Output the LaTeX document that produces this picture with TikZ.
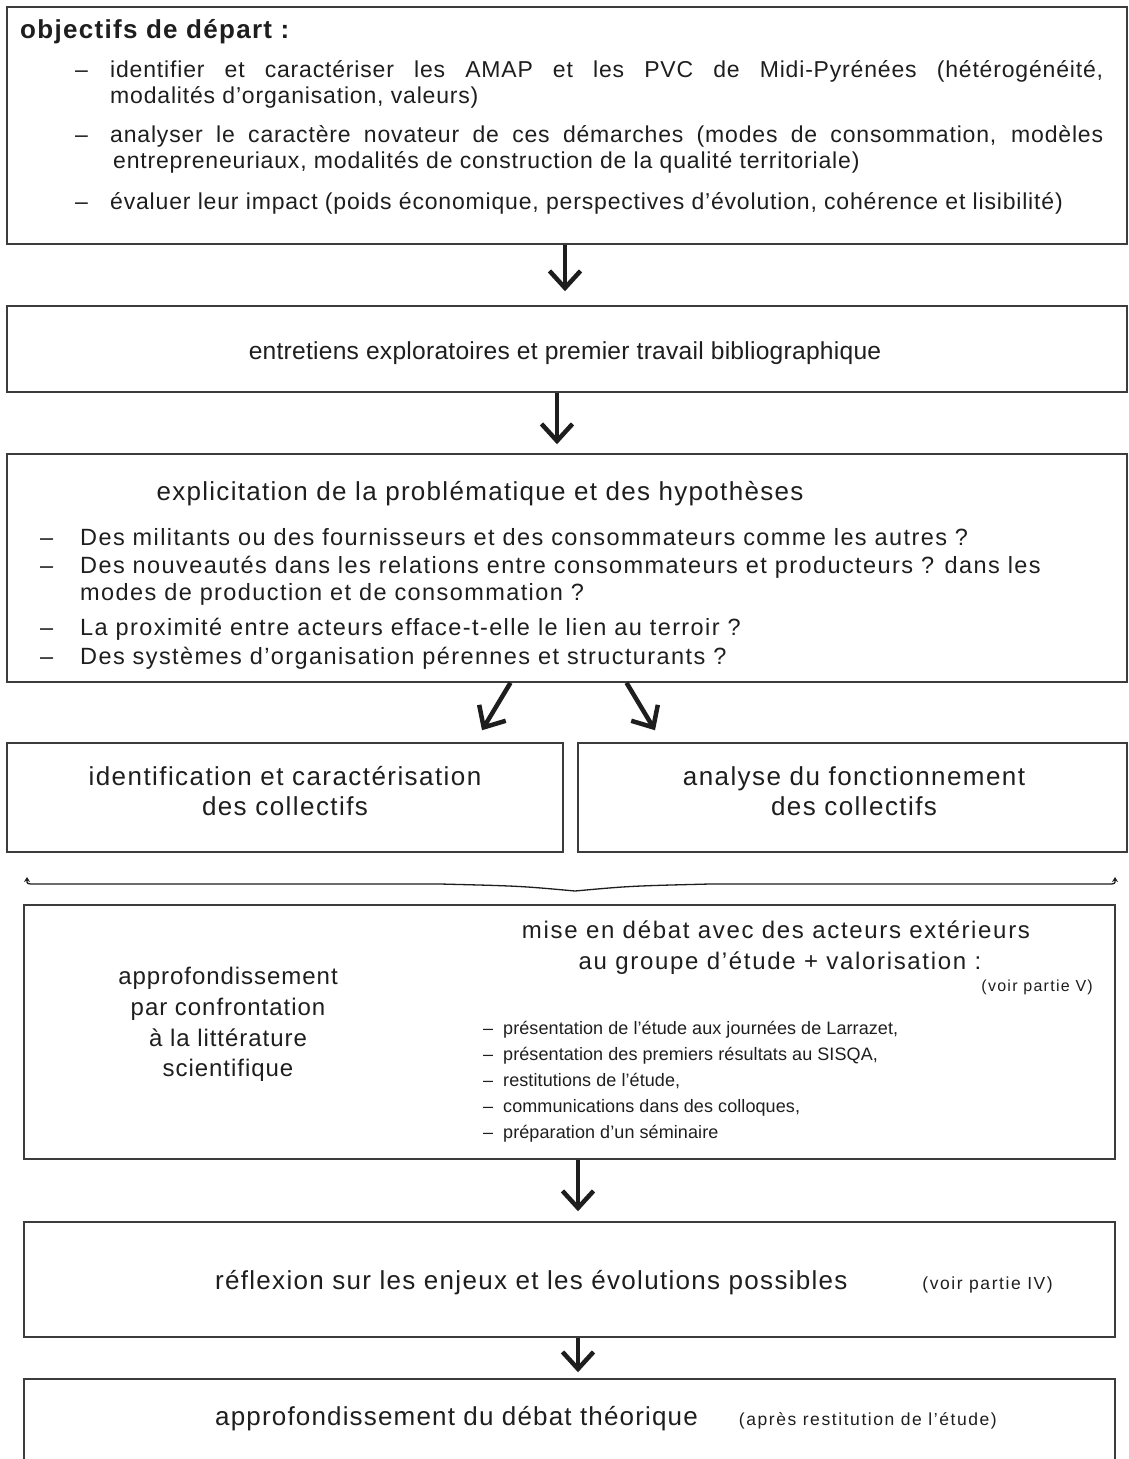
\documentclass[tikz,border=0pt]{standalone}
\usepackage{fontspec}
\setmainfont{Liberation Sans}
\usetikzlibrary{arrows.meta,calc}
\definecolor{ink}{HTML}{1E1E1E}
\definecolor{frame}{HTML}{3C3C3C}
\newcommand{\fsz}[3]{\fontsize{#1}{#2}\selectfont\addfontfeature{LetterSpace=#3}}
\begin{document}
\begin{tikzpicture}[x=1pt,y=-1pt,
  box/.style={draw=frame,line width=1.5pt,rectangle,inner sep=0pt},
  arr/.style={draw=ink,line width=4.5pt,-{Straight Barb[length=17pt,width=31pt,line width=4.5pt]}},
  txt/.style={inner sep=0pt,text=ink,anchor=base west},
  ctxt/.style={inner sep=0pt,text=ink,anchor=base},
  rtxt/.style={inner sep=0pt,text=ink,anchor=base east},
  fa/.style={font=\fsz{23}{26}{3.6}},
  fb/.style={font=\fsz{23.5}{28}{6}},
  fc/.style={font=\fsz{26}{30}{5}},
  fd/.style={font=\fsz{26}{30}{5.5}},
  fh/.style={font=\fsz{26}{30}{4.5}},
  fe/.style={font=\fsz{24}{30}{4}},
  ff/.style={font=\fsz{24}{30}{7}},
  fg/.style={font=\fsz{18}{22}{0.5}},
  fs/.style={font=\fsz{16}{18}{8}},
  fsb/.style={font=\fsz{17.5}{20}{9}},
  brace/.style={draw=ink,line width=1.3pt}]
\useasboundingbox (0,0) rectangle (1128,1459);
\clip (0,0) rectangle (1128,1459);
\fill[white] (0,0) rectangle (1128,1459);

% boxes
\node[box,minimum width=1120pt,minimum height=237pt] (b1) at (567,125.5) {};
\node[box,minimum width=1120pt,minimum height=86pt] (b2) at (567,349) {};
\node[box,minimum width=1120pt,minimum height=228pt] (b3) at (567,568) {};
\node[box,minimum width=556pt,minimum height=109pt] (b4a) at (285,797.5) {};
\node[box,minimum width=549pt,minimum height=109pt] (b4b) at (852.5,797.5) {};
\node[box,minimum width=1091pt,minimum height=254pt] (b5) at (569.5,1032) {};
\node[box,minimum width=1091pt,minimum height=115pt] (b6) at (569.5,1279.5) {};
\node[box,minimum width=1091pt,minimum height=121pt] (b7) at (569.5,1439.5) {};

% box 1
\node[txt,font=\fsz{26}{30}{5}\bfseries] (t1) at (20,38) {objectifs de départ :};
\node[txt,fa] (d11) at (75,77) {--};
\node[txt,fa] (l11) at (110,77) {\makebox[993pt][s]{identifier et caractériser les AMAP et les PVC de Midi-Pyrénées (hétérogénéité,}};
\node[txt,fa] (l12) at (110,103) {modalités d’organisation, valeurs)};
\node[txt,fa] (d12) at (75,142) {--};
\node[txt,fa] (l13) at (110,142) {\makebox[993pt][s]{analyser le caractère novateur de ces démarches (modes de consommation, modèles}};
\node[txt,fa] (l14) at (113,168) {entrepreneuriaux, modalités de construction de la qualité territoriale)};
\node[txt,fa] (d13) at (75,209) {--};
\node[txt,fa] (l15) at (110,209) {évaluer leur impact (poids économique, perspectives d’évolution, cohérence et lisibilité)};

% box 2
\node[ctxt,font=\fsz{24.6}{30}{1}] (t2) at (565,359) {entretiens exploratoires et premier travail bibliographique};

% box 3
\node[ctxt,fc] (t3) at (480,500) {explicitation de la problématique et des hypothèses};
\node[txt,fb] (d31) at (40,545) {--};
\node[txt,fb] (l31) at (80,545) {Des militants ou des fournisseurs et des consommateurs comme les autres ?};
\node[txt,fb] (d32) at (40,573) {--};
\node[txt,fb] (l32) at (80,573) {Des nouveautés dans les relations entre consommateurs et producteurs ? dans les};
\node[txt,fb] (l33) at (80,600) {modes de production et de consommation ?};
\node[txt,fb] (d34) at (40,635) {--};
\node[txt,fb] (l34) at (80,635) {La proximité entre acteurs efface-t-elle le lien au terroir ?};
\node[txt,fb] (d35) at (40,664) {--};
\node[txt,fb] (l35) at (80,664) {Des systèmes d'organisation pérennes et structurants ?};

% box 4
\node[ctxt,fd] (t4a1) at (285,785) {identification et caractérisation};
\node[ctxt,fd] (t4a2) at (285,815) {des collectifs};
\node[ctxt,fd] (t4b1) at (854,785) {analyse du fonctionnement};
\node[ctxt,fd] (t4b2) at (854,815) {des collectifs};

% box 5
\node[ctxt,fe] (t5l1) at (228,984) {approfondissement};
\node[ctxt,fe] (t5l2) at (228,1015) {par confrontation};
\node[ctxt,fe] (t5l3) at (228,1046) {à la littérature};
\node[ctxt,fe] (t5l4) at (228,1076) {scientifique};
\node[ctxt,ff] (t5r1) at (776,938) {mise en débat avec des acteurs extérieurs};
\node[ctxt,ff] (t5r2) at (780,969) {au groupe d’étude + valorisation :};
\node[rtxt,fs] (t5v) at (1093,991) {(voir partie V)};
\foreach \yy/\tt [count=\i] in {1034/{présentation de l’étude aux journées de Larrazet,},1060/{présentation des premiers résultats au SISQA,},1086/{restitutions de l’étude,},1112/{communications dans des colloques,},1138/{préparation d’un séminaire}}{
  \node[txt,fg] (d5\i) at (483,\yy) {--};
  \node[txt,fg] (l5\i) at (503,\yy) {\tt};
}

% box 6
\node[txt,font=\fsz{26}{30}{5}] (t6) at (215,1289) {réflexion sur les enjeux et les évolutions possibles};
\node[rtxt,fsb] (t6v) at (1053,1289) {(voir partie IV)};

% box 7
\node[txt,fh] (t7) at (215,1425) {approfondissement du débat théorique};
\node[rtxt,fsb] (t7v) at (997,1425) {(après restitution de l’étude)};

% arrows
\draw[arr] ([xshift=-2pt]b1.south) -- ([xshift=-2pt,yshift=14pt]b2.north);
\draw[arr] ([xshift=-10pt]b2.south) -- ([xshift=-10pt,yshift=9pt]b3.north);
\draw[arr] ($(b3.south)+(-56.5,0)$) -- ($(b4a.north)+(197,-12)$);
\draw[arr] ($(b3.south)+(59.5,0)$) -- ($(b4b.north)+(-197.5,-12)$);
\draw[arr] ([xshift=8.5pt]b5.south) -- ([xshift=8.5pt,yshift=10pt]b6.north);
\draw[arr] ([xshift=8.5pt]b6.south) -- ([xshift=8.5pt,yshift=6pt]b7.north);

% brace
\coordinate (brL) at (27,877);
\coordinate (brM) at (575,891);
\coordinate (brR) at (1115,877);
\draw[brace,{Stealth[length=5pt,width=6pt]}-{Stealth[length=5pt,width=6pt]}] (brL) .. controls (27,884) .. (35,884) -- (440,884) .. controls (520,886) .. (brM) .. controls (630,886) .. (710,884) -- (1107,884) .. controls (1115,884) .. (brR);
\end{tikzpicture}
\end{document}
